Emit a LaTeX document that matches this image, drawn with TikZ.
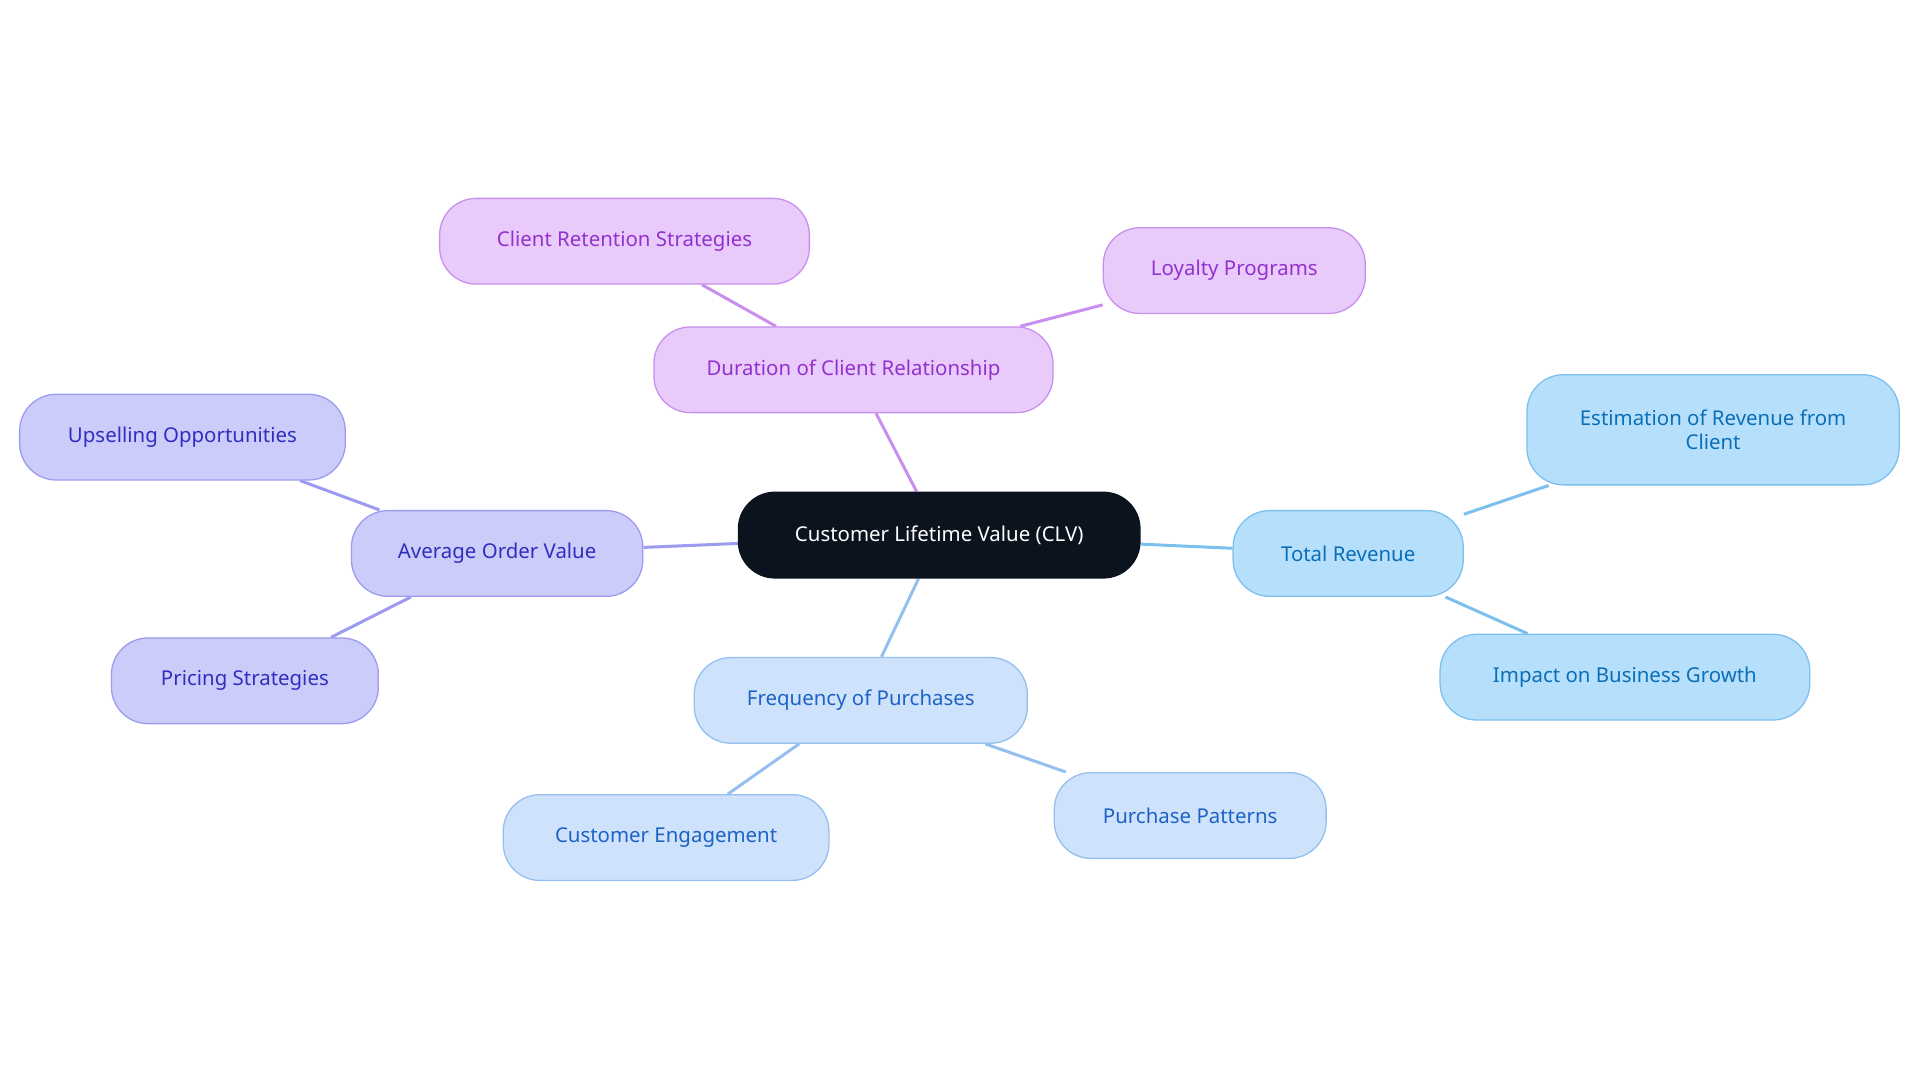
\documentclass[tikz,border=0pt]{standalone}
\usepackage{fontspec}
\setmainfont{Noto Sans}
\usetikzlibrary{backgrounds}
\definecolor{rootfill}{HTML}{0B131E}
\definecolor{revfill}{HTML}{B5DFFB}\definecolor{revline}{HTML}{7CC0EE}\definecolor{revtext}{HTML}{0B6FB8}
\definecolor{freqfill}{HTML}{CFE2FB}\definecolor{freqline}{HTML}{95BFEE}\definecolor{freqtext}{HTML}{1D63C6}
\definecolor{avgfill}{HTML}{CCCCFB}\definecolor{avgline}{HTML}{9B9BEF}\definecolor{avgtext}{HTML}{2F2FBF}
\definecolor{durfill}{HTML}{E8CBFB}\definecolor{durline}{HTML}{C98FEE}\definecolor{durtext}{HTML}{9331CF}
\begin{document}
\begin{tikzpicture}[x=0.02cm,y=-0.02cm,
  every node/.style={rounded corners=17pt, minimum height=1.4cm, inner sep=0pt,
    font=\fontsize{9.5}{11}\selectfont, align=center, line width=0.6pt},
  rootbox/.style={fill=rootfill, draw=rootfill, text=white},
  revbox/.style={fill=revfill, draw=revline, text=revtext},
  freqbox/.style={fill=freqfill, draw=freqline, text=freqtext},
  avgbox/.style={fill=avgfill, draw=avgline, text=avgtext},
  durbox/.style={fill=durfill, draw=durline, text=durtext},
  link/.style={line width=1.4pt}
]
\useasboundingbox (0,0) rectangle (1568,884);
\node[rootbox, minimum width=6.56cm] (clv) at (767,437) {Customer Lifetime Value (CLV)};
% total revenue
\node[revbox, minimum width=3.76cm] (rev) at (1101,452) {Total Revenue};
\node[revbox, minimum width=6.08cm, minimum height=1.8cm] (est) at (1399,351) {Estimation of Revenue from\\Client};
\node[revbox, minimum width=6.04cm] (imp) at (1327,553) {Impact on Business Growth};
% frequency
\node[freqbox, minimum width=5.44cm] (freq) at (703,572) {Frequency of Purchases};
\node[freqbox, minimum width=5.32cm] (eng) at (544,684) {Customer Engagement};
\node[freqbox, minimum width=4.44cm] (pat) at (972,666) {Purchase Patterns};
% average order value
\node[avgbox, minimum width=4.76cm] (avg) at (406,452) {Average Order Value};
\node[avgbox, minimum width=5.32cm] (up) at (149,357) {Upselling Opportunities};
\node[avgbox, minimum width=4.36cm] (price) at (200,556) {Pricing Strategies};
% duration
\node[durbox, minimum width=6.52cm] (dur) at (697,302) {Duration of Client Relationship};
\node[durbox, minimum width=6.04cm] (ret) at (510,197) {Client Retention Strategies};
\node[durbox, minimum width=4.28cm] (loy) at (1008,221) {Loyalty Programs};
\begin{scope}[on background layer]
\draw[link, revline] (clv) -- (rev) (rev) -- (est) (rev) -- (imp);
\draw[link, freqline] (clv) -- (freq) (freq) -- (eng) (freq) -- (pat);
\draw[link, avgline] (clv) -- (avg) (avg) -- (up) (avg) -- (price);
\draw[link, durline] (clv) -- (dur) (dur) -- (ret) (dur) -- (loy);
\end{scope}
\end{tikzpicture}
\end{document}
